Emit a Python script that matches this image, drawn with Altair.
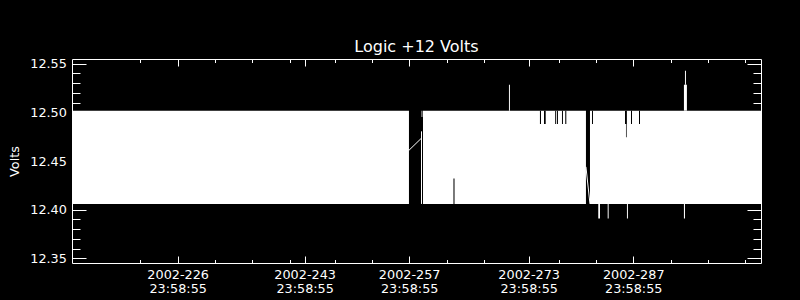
import altair as alt
import pandas as pd

# ---- data (time axis: day of year 2002, labelled at 23:58:55) ----
# white min/max envelope segments of the densely sampled +12 V logic telemetry
seg_t0 = [211.85, 258.58, 258.66, 258.85, 281.21, 270.36, 282.32, 283.58, 286.16, 293.79, 293.93, 293.79]
seg_t1 = [256.97, 258.72, 258.76, 280.67, 304.11, 270.49, 282.55, 283.71, 286.29, 294.19, 294.06, 293.93]
seg_lo = [12.4059, 12.4059, 12.4953, 12.4059, 12.4059, 12.5017, 12.3908, 12.3908, 12.3908, 12.5017, 12.5284, 12.3908]
seg_hi = [12.5017, 12.4805, 12.5017, 12.5017, 12.5017, 12.5284, 12.4059, 12.4059, 12.4059, 12.5284, 12.5428, 12.4059]

# short intervals where the envelope did not reach the band edge
dip_t0 = [262.93, 274.51, 275.05, 276.55, 276.79, 277.46, 277.90, 281.48, 285.90, 286.03, 286.70, 287.77]
dip_t1 = [263.07, 274.65, 275.28, 276.68, 276.92, 277.59, 278.04, 281.61, 286.12, 286.12, 286.84, 287.91]
dip_lo = [12.4059, 12.4880, 12.4880, 12.4880, 12.4880, 12.4880, 12.4880, 12.4880, 12.4880, 12.4743, 12.4880, 12.4880]
dip_hi = [12.4319, 12.5017, 12.5017, 12.5017, 12.5017, 12.5017, 12.5017, 12.5017, 12.5017, 12.5017, 12.5017, 12.5017]

# lines drawn across the two data gaps
gap_id = [1, 1, 2, 2]
gap_t = [256.97, 258.58, 280.67, 281.21]
gap_v = [12.461, 12.473, 12.444, 12.4059]

x_major = [226, 243, 257, 273, 287]
x_minor = [221, 231, 236, 241, 247, 252, 262, 267, 277, 282, 292, 297, 302]
y_major = [12.35, 12.40, 12.45, 12.50, 12.55]
y_minor = [12.35, 12.36, 12.37, 12.38, 12.39, 12.40, 12.41, 12.42, 12.43, 12.44,
           12.45, 12.46, 12.47, 12.48, 12.49, 12.50, 12.51, 12.52, 12.53, 12.54, 12.55]
x_domain = [211.85, 304.11]
y_domain = [12.3452, 12.5548]

W, H = 689, 204
FONT = "DejaVu Sans"

seg_df = pd.DataFrame({"t0": seg_t0, "t1": seg_t1, "lo": seg_lo, "hi": seg_hi})
dip_df = pd.DataFrame({"t0": dip_t0, "t1": dip_t1, "lo": dip_lo, "hi": dip_hi})
gap_df = pd.DataFrame({"id": gap_id, "t": gap_t, "v": gap_v})

xs = alt.Scale(domain=x_domain, nice=False, zero=False)
ys = alt.Scale(domain=y_domain, nice=False, zero=False)

label_x_axis = alt.Axis(
    orient="bottom", values=x_major, ticks=False, tickSize=0, domain=False, grid=False,
    labelExpr="['2002-' + format(datum.value, 'd'), '23:58:55']",
    labelPadding=5, labelFontSize=12.8, labelLineHeight=14, labelColor="white",
    labelFont=FONT, labelFontWeight="normal", title=None, labelFlush=False, labelOverlap=False,
)
label_y_axis = alt.Axis(
    orient="left", values=y_major, format=".2f", ticks=False, tickSize=0, domain=False, grid=False,
    labelPadding=5.6, labelFontSize=12.8, labelColor="white", labelFont=FONT,
    labelFlush=False, labelOverlap=False,
    title="Volts", titleColor="white", titleFont=FONT, titleFontSize=12.8,
    titleFontWeight="normal", titleX=-58, titleY=H / 2, titleBaseline="middle",
    titleAlign="center", titleAngle=270,
)

band = alt.Chart(seg_df).mark_rect(color="white").encode(
    x=alt.X("t0:Q", scale=xs, axis=label_x_axis),
    x2="t1",
    y=alt.Y("lo:Q", scale=ys, axis=label_y_axis),
    y2="hi",
)

dips = alt.Chart(dip_df).mark_rect(color="black").encode(
    x=alt.X("t0:Q", scale=xs, axis=None),
    x2="t1",
    y=alt.Y("lo:Q", scale=ys, axis=None),
    y2="hi",
)

gaps = alt.Chart(gap_df).mark_line(color="white", strokeWidth=1).encode(
    x=alt.X("t:Q", scale=xs, axis=None),
    y=alt.Y("v:Q", scale=ys, axis=None),
    detail="id:N",
)


def tick_layer(xorient, xvals, xsize, yorient, yvals, ysize):
    common = dict(labels=False, domain=False, grid=False, title=None,
                  tickColor="white", tickWidth=1, ticks=True)
    return alt.Chart(seg_df).mark_rect(opacity=0).encode(
        x=alt.X("t0:Q", scale=xs,
                axis=alt.Axis(orient=xorient, offset=-H, values=xvals, tickSize=xsize, **common)),
        x2="t1",
        y=alt.Y("lo:Q", scale=ys,
                axis=alt.Axis(orient=yorient, offset=-W, values=yvals, tickSize=ysize, **common)),
        y2="hi",
    )


t_a = tick_layer("top", x_major, 7, "right", y_major, 14)
t_b = tick_layer("bottom", x_major, 7, "left", y_major, 14)
t_c = tick_layer("top", x_minor, 3.5, "right", y_minor, 8)
t_d = tick_layer("bottom", x_minor, 3.5, "left", y_minor, 8)

chart = (
    alt.layer(band, dips, gaps, t_a, t_b, t_c, t_d)
    .resolve_axis(x="independent", y="independent")
    .properties(
        width=W, height=H,
        autosize=alt.AutoSizeParams(type="none"),
        padding={"left": 72, "top": 59, "right": 39, "bottom": 37},
        background="black",
        title=alt.TitleParams(
            "Logic +12 Volts", color="white", font=FONT, fontSize=16,
            fontWeight="normal", anchor="middle", frame="group",
            baseline="alphabetic", offset=6.5, dy=17,
        ),
    )
    .configure_view(stroke="white", strokeWidth=1)
)

chart.save("out.html", embed_options={"renderer": "svg", "actions": False})
